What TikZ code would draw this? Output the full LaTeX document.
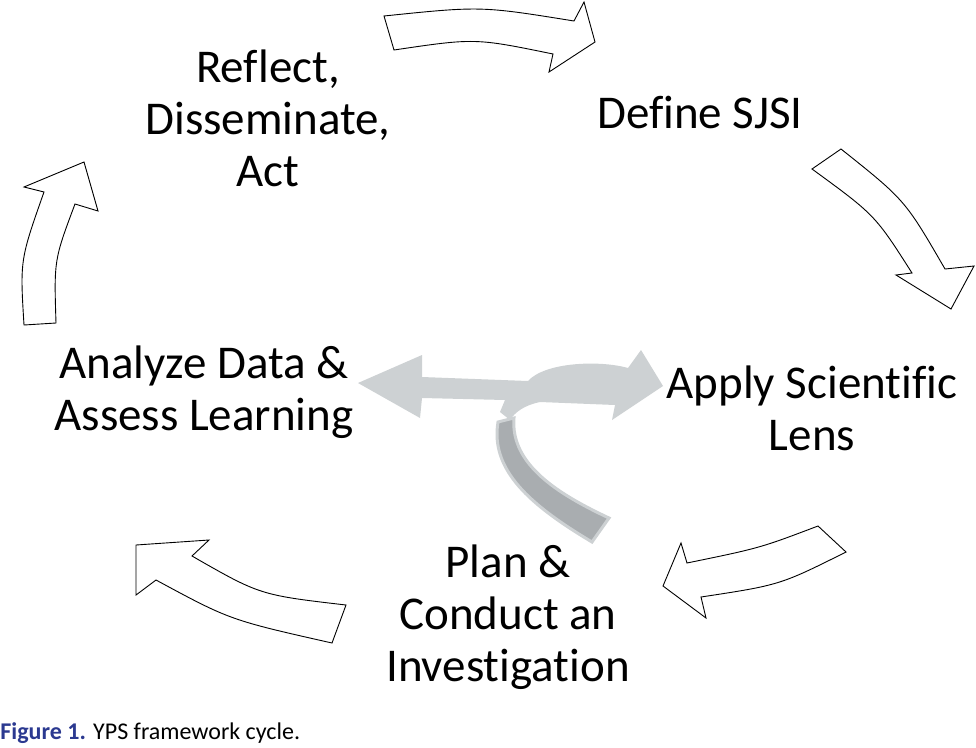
\documentclass[tikz,border=0pt]{standalone}
\usepackage{fontspec}
\setmainfont[Ligatures=NoCommon]{Carlito}
\tikzset{every picture/.style={line width=0.9pt}}
\definecolor{lightband}{RGB}{205,209,211}
\definecolor{darkband}{RGB}{169,173,176}
\definecolor{capblue}{RGB}{43,57,144}
\tikzset{
  phase/.style={font=\fontsize{47}{52}\selectfont, align=center, inner sep=0pt},
  outarrow/.style={draw=black, fill=white, line join=miter}
}
\begin{document}
\begin{tikzpicture}[x=1pt,y=1pt,yscale=-1,xscale=1]
\useasboundingbox (0,0) rectangle (976,747);

% phase texts
\node[phase] (reflect) at (268,118) {Reflect,\\Disseminate,\\Act};
\node[phase] (define) at (700,112) {Define SJSI};
\node[phase] (apply) at (812,408) {Apply Scientific\\Lens};
\node[phase] (analyze) at (204,392) {Analyze Data \&\\Assess Learning};
\node[phase] (plan) at (508,617) {Plan \&\\Conduct an\\Investigation};

%Outline arrow: top
\draw[outarrow] (384,16) .. controls (481,6) .. (574,21) -- (584,2) -- (595,42) -- (549,72) -- (553,54) .. controls (475,38) .. (394,50) -- cycle ;
%Outline arrow: right
\draw[outarrow] (841,149) .. controls (905,200) .. (945,269) -- (974,266) -- (951,309) -- (896,275) -- (912,273) .. controls (875,215) .. (812,169) -- cycle ;
%Outline arrow: lower right
\draw[outarrow] (818,526) -- (846,552) .. controls (780,585) .. (701,597) -- (706,618) -- (663,586) -- (681,543) -- (687,563) .. controls (760,548) .. (818,526) -- cycle ;
%Outline arrow: lower left
\draw[outarrow] (346,605) -- (332,643) .. controls (230,620) .. (156,580) -- (136,595) -- (136,545) -- (209,540) -- (192,556) .. controls (260,595) .. (346,605) -- cycle ;
%Outline arrow: left
\draw[outarrow] (24,325) .. controls (20,260) .. (44,192) -- (24,187) -- (84,162) -- (98,211) -- (75,204) .. controls (54,260) .. (56,323) -- cycle ;

%Curved band
\draw[fill=darkband, draw=lightband, line width=3pt] (514,418) .. controls (510,465) and (560,495) .. (609,518) -- (592,542) .. controls (530,505) and (490,470) .. (498,422) -- cycle ;
%Double arrow
\fill[lightband] (358,383) -- (422,355) -- (422,377) -- (528,381) .. controls (545,362) and (600,360) .. (628,368) -- (641,350) -- (663,386) -- (612,420) -- (615,405) -- (540,402) .. controls (525,405) and (515,412) .. (510,420) -- (500,412) -- (505,400) -- (422,398) -- (420,418) -- cycle ;

% caption
\node[anchor=west, inner sep=0pt, font=\fontsize{24}{28}\selectfont] (caption) at (0,733) {\textcolor{capblue}{\textbf{Figure 1.}} YPS framework cycle.};
\end{tikzpicture}
\end{document}
